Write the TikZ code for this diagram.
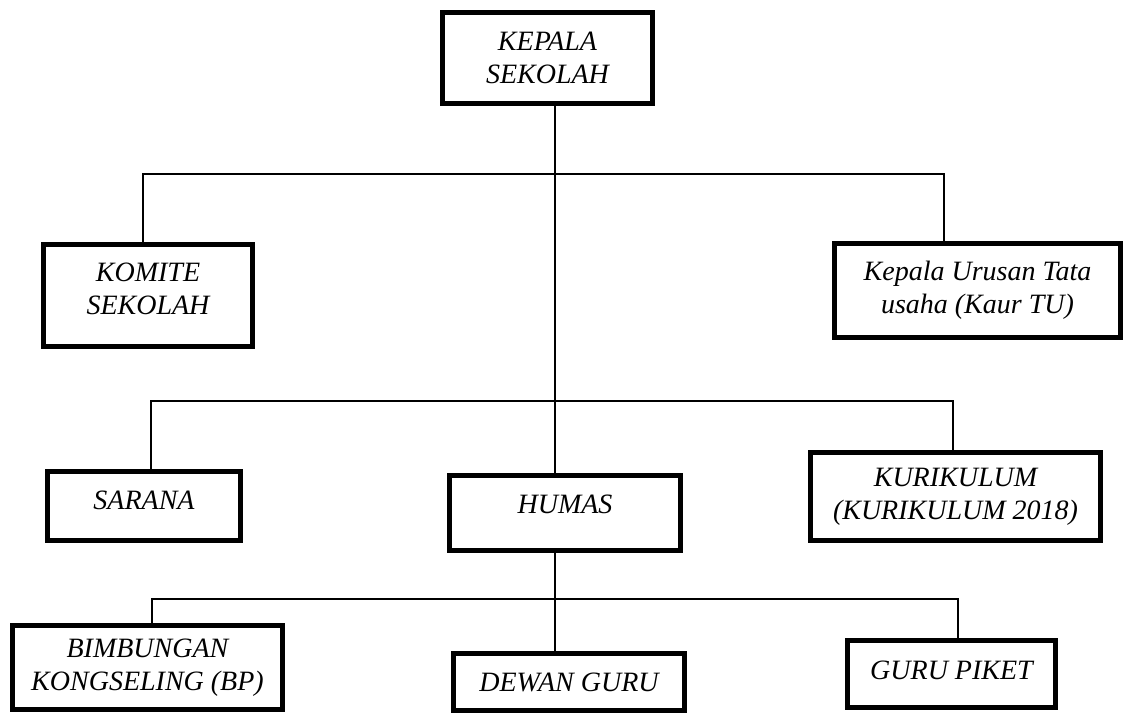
\documentclass[tikz,border=0pt]{standalone}
\usepackage{fontspec}
\setmainfont{Liberation Serif}
\usepackage{tikz}
\usetikzlibrary{positioning,calc}

\begin{document}
\begin{tikzpicture}[x=1pt, y=-1pt,
    orgbox/.style={draw, line width=5pt, align=center, inner sep=0pt, font=\fontsize{28}{33}\selectfont\itshape},
    link/.style={line width=1.6pt}]
    \useasboundingbox (0,0) rectangle (1131,715);
    % boxes
    \node [orgbox, minimum width=210pt, minimum height=91pt] (kepala) at (547.5,58) {KEPALA\\SEKOLAH};
    \node [orgbox, minimum width=209pt, minimum height=102pt, text depth=14pt] (komite) at (148,295.5) {KOMITE\\SEKOLAH};
    \node [orgbox, minimum width=286pt, minimum height=94pt] (kaur) at (977.5,290.5) {Kepala Urusan Tata\\usaha (Kaur TU)};
    \node [orgbox, minimum width=193pt, minimum height=69pt, text depth=12pt] (sarana) at (144,506) {SARANA};
    \node [orgbox, minimum width=231pt, minimum height=75pt, text depth=18pt] (humas) at (565,513) {HUMAS};
    \node [orgbox, minimum width=290pt, minimum height=88pt] (kurikulum) at (955.5,496.5) {KURIKULUM\\(KURIKULUM 2018)};
    \node [orgbox, minimum width=270pt, minimum height=84pt] (bp) at (147.5,667.5) {BIMBUNGAN\\KONGSELING (BP)};
    \node [orgbox, minimum width=231pt, minimum height=57pt] (dewan) at (569,682) {DEWAN GURU};
    \node [orgbox, minimum width=208pt, minimum height=67pt, text depth=8pt] (piket) at (951.5,674) {GURU PIKET};
    % bus points
    \coordinate (b1l) at (143,174); \coordinate (b1r) at (944,174);
    \coordinate (b2l) at (151,401); \coordinate (b2r) at (953,401);
    \coordinate (b3l) at (152,599); \coordinate (b3m) at (555,599); \coordinate (b3r) at (958,599);
    % connectors
    \draw [link] (kepala.south -| b3m) -- (humas.north -| b3m);
    \draw [link] (komite.north -| b1l) -- (b1l) -- (b1r) -- (kaur.north -| b1r);
    \draw [link] (sarana.north -| b2l) -- (b2l) -- (b2r) -- (kurikulum.north -| b2r);
    \draw [link] (humas.south -| b3m) -- (b3m);
    \draw [link] (bp.north -| b3l) -- (b3l) -- (b3r) -- (piket.north -| b3r);
    \draw [link] (b3m) -- (dewan.north -| b3m);
\end{tikzpicture}
\end{document}
